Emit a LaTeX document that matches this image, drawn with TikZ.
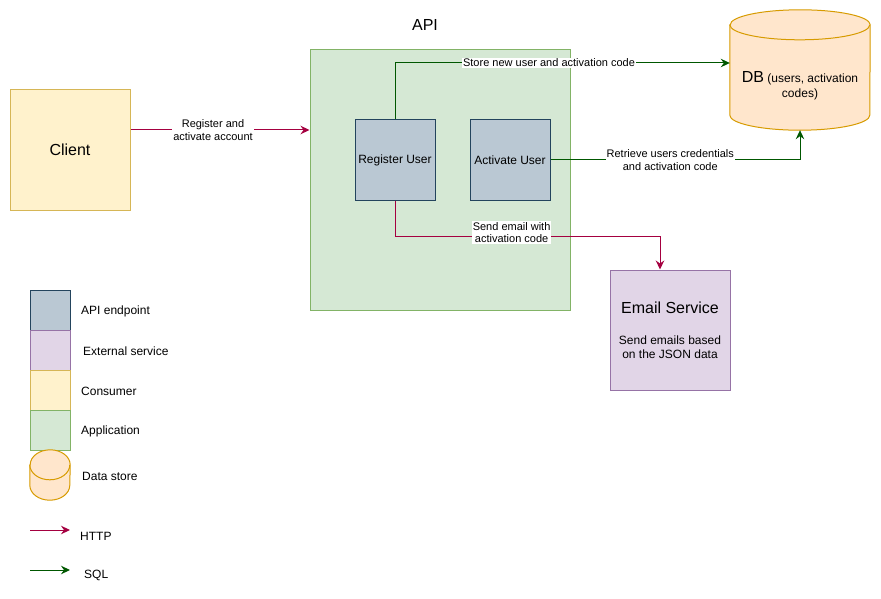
\documentclass[tikz,border=0pt]{standalone}
\usepackage{fontspec}
\setmainfont{Liberation Sans}
\usetikzlibrary{arrows.meta}
\definecolor{httpred}{HTML}{A50040}
\definecolor{sqlgreen}{HTML}{005700}
\definecolor{endfill}{HTML}{BAC8D3}
\definecolor{enddraw}{HTML}{23445D}
\definecolor{extfill}{HTML}{E1D5E7}
\definecolor{extdraw}{HTML}{9673A6}
\definecolor{confill}{HTML}{FFF2CC}
\definecolor{condraw}{HTML}{D6B656}
\definecolor{appfill}{HTML}{D5E8D4}
\definecolor{appdraw}{HTML}{82B366}
\definecolor{dbfill}{HTML}{FFE6CC}
\definecolor{dbdraw}{HTML}{D79B00}
\tikzset{
  box/.style={rectangle, line width=1pt, inner sep=0pt, align=center},
  endpoint/.style={box, fill=endfill, draw=enddraw},
  external/.style={box, fill=extfill, draw=extdraw},
  consumer/.style={box, fill=confill, draw=condraw},
  application/.style={box, fill=appfill, draw=appdraw},
  store/.style={rectangle, inner sep=0pt},
  storeline/.style={line width=1pt, fill=dbfill, draw=dbdraw},
  http/.style={draw=httpred, line width=1pt, -{Stealth[length=9pt,width=8.5pt,inset=3pt]}},
  sql/.style={draw=sqlgreen, line width=1pt, -{Stealth[length=9pt,width=8.5pt,inset=3pt]}},
  lbl/.style={fill=white, inner sep=1pt, align=center, font=\fontsize{11}{12.5}\selectfont},
  legtext/.style={anchor=west, inner sep=0pt, font=\fontsize{12}{14}\selectfont},
}
% cylinder drawn round a named node: #1 name, #2 half width, #3 ellipse depth
\newcommand{\drawstore}[3]{%
  \draw[storeline] ([yshift=-#3]#1.north west) -- ([yshift=#3]#1.south west)
    arc[start angle=180, end angle=360, x radius=#2, y radius=#3]
    -- ([yshift=-#3]#1.north east)
    arc[start angle=0, end angle=180, x radius=#2, y radius=#3] -- cycle;
  \draw[storeline, fill=none] ([yshift=-#3]#1.north west)
    arc[start angle=180, end angle=360, x radius=#2, y radius=#3];
}
\begin{document}
\begin{tikzpicture}[x=1pt, y=-1pt]
\useasboundingbox (0,0) rectangle (881,599);
\node[consumer, minimum width=120pt, minimum height=120pt, font=\fontsize{16}{19}\selectfont] (client) at (70,150){Client};
\node[font=\fontsize{16}{19}\selectfont] (apititle) at (425,25){API};
\node[application, minimum width=260pt, minimum height=260pt] (api) at (440,180){};
\node[endpoint, minimum width=80pt, minimum height=80pt, font=\fontsize{12}{14}\selectfont] (reg) at (395,160){Register User};
\node[endpoint, minimum width=80pt, minimum height=80pt, font=\fontsize{12}{14}\selectfont] (act) at (510,160){Activate User};
\node[store, minimum width=140pt, minimum height=120pt] (db) at (800,70){};
\drawstore{db}{70pt}{15pt}
\node[align=center, font=\fontsize{12}{15}\selectfont] (dbtext) at (800,86){{\fontsize{16}{15}\selectfont DB} (users, activation\\codes)};
\node[external, minimum width=120pt, minimum height=120pt, font=\fontsize{12}{14}\selectfont] (email) at (670,330){{\fontsize{16}{19}\selectfont Email Service}\\[17pt]Send emails based\\on the JSON data};
\draw[http] ([yshift=20pt]client.east) -- ([yshift=20pt]client.east -| api.west) node[lbl, midway, xshift=-7pt]{Register and\\activate account};
\draw[sql] (reg.north) |- ([yshift=7pt]db.west) node[lbl, pos=0.73]{Store new user and activation code};
\draw[sql] (act.east) -| (db.south) node[lbl, pos=0.24]{Retrieve users credentials\\and activation code};
\draw[http] (reg.south) -- ++(0,36) -| ([xshift=-10pt]email.north) node[lbl, pos=0.22, yshift=4pt]{Send email with\\activation code};
% legend
\node[endpoint, minimum width=40pt, minimum height=40pt] (legend1) at (50,310){};
\node[external, minimum width=40pt, minimum height=40pt] (legend2) at (50,350){};
\node[consumer, minimum width=40pt, minimum height=40pt] (legend3) at (50,390){};
\node[application, minimum width=40pt, minimum height=40pt] (legend4) at (50,430){};
\node[store, minimum width=40pt, minimum height=50pt] (legend5) at (50,475){};
\drawstore{legend5}{20pt}{15pt}
\node[legtext] (legtext1) at (81,311){API endpoint};
\node[legtext] (legtext2) at (83,351){External service};
\node[legtext] (legtext3) at (81,391){Consumer};
\node[legtext] (legtext4) at (81,431){Application};
\node[legtext] (legtext5) at (82,476){Data store};
\coordinate (httpa) at (30,530);
\coordinate (httpb) at (70,530);
\coordinate (sqla) at (30,570);
\coordinate (sqlb) at (70,570);
\draw[http] (httpa) -- (httpb);
\draw[sql] (sqla) -- (sqlb);
\node[legtext] (legtext6) at (80,536){HTTP};
\node[legtext] (legtext7) at (84,575){SQL};
\end{tikzpicture}
\end{document}
